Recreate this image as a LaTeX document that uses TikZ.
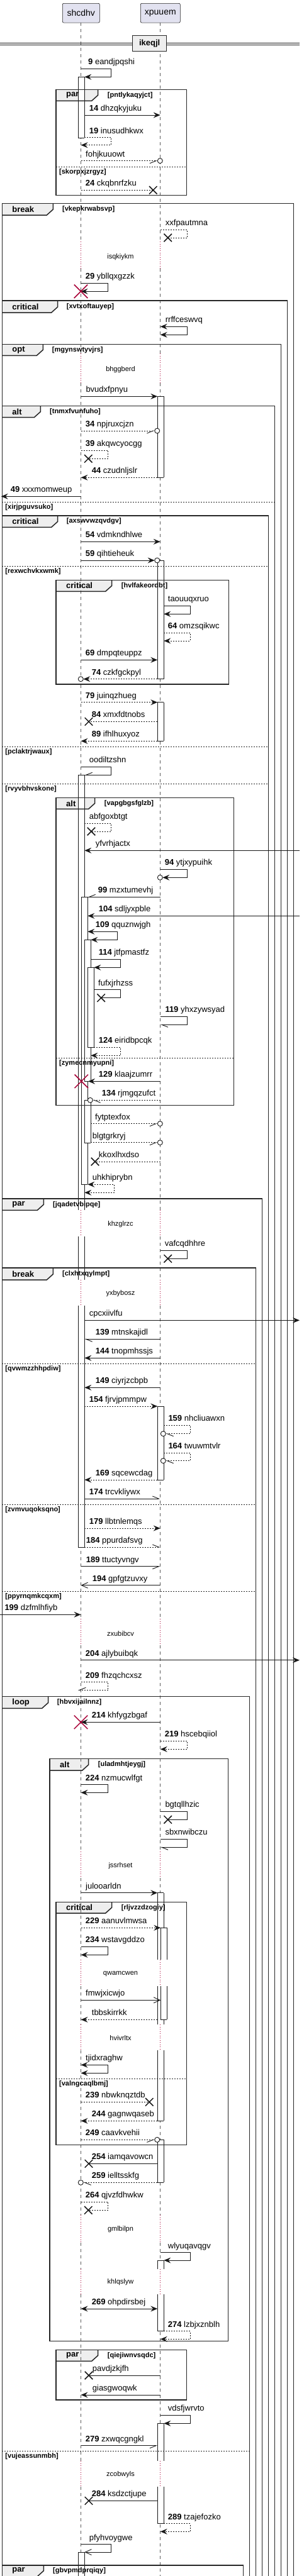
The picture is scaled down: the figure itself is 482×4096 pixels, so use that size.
\documentclass[tikz,border=0pt]{standalone}
\usepackage{fontspec}
\setmainfont{Liberation Sans}
\usetikzlibrary{arrows.meta,shapes.misc}
\pgfdeclarelayer{tabs}
\pgfdeclarelayer{lifes}
\pgfdeclarelayer{bars}
\pgfsetlayers{tabs,lifes,bars,main}
\definecolor{partfill}{HTML}{E2E2F0}
\definecolor{ink}{HTML}{181818}
\definecolor{tabgray}{HTML}{EEEEEE}
\definecolor{killred}{HTML}{A80036}
\tikzset{
    every node/.style={inner sep=0pt},
    part/.style={draw=ink,fill=partfill,rounded corners=2pt,line width=0.6pt,minimum height=30.7pt,font=\fontsize{14}{16}\selectfont},
    lifeline/.style={draw=ink!70,line width=0.6pt,dash pattern=on 5pt off 5pt},
    delayline/.style={draw=killred,line width=0.8pt,dash pattern=on 1pt off 2.5pt},
    msgline/.style={draw=ink,line width=0.9pt},
    reply/.style={dash pattern=on 2pt off 2pt},
    tipfull/.style={-{Stealth[length=11pt,width=9pt,inset=4pt]}},
    tipboth/.style={{Stealth[length=11pt,width=9pt,inset=4pt]}-{Stealth[length=11pt,width=9pt,inset=4pt]}},
    tipopen/.style={-{Straight Barb[length=10pt,width=9pt]}},
    halfl/.style={-{Straight Barb[harpoon,length=10pt,width=8pt]}},
    halfr/.style={-{Straight Barb[harpoon,swap,length=10pt,width=8pt]}},
    lbl/.style={anchor=base west,font=\fontsize{13}{15}\selectfont},
    grpline/.style={draw=black!85,line width=1.5pt},
    kw/.style={anchor=west,font=\bfseries\fontsize{13}{15}\selectfont},
    cond/.style={anchor=west,font=\bfseries\fontsize{11}{13}\selectfont},
    sepline/.style={draw=black!85,line width=0.8pt,dash pattern=on 2pt off 2pt},
    delaytxt/.style={font=\fontsize{11}{13}\selectfont},
    xm/.style={cross out,draw=ink,line width=1.5pt,minimum size=11pt},
    kill/.style={cross out,draw=killred,line width=1.5pt,minimum size=20pt},
    circ/.style={circle,draw=ink,fill=white,line width=0.9pt,minimum size=8pt},
    barline/.style={draw=ink,line width=0.8pt},
}
\newcommand{\grp}[9]{%
  \begin{pgfonlayer}{tabs}
    \fill[tabgray] (#1,#2) -- (#5,#2) -- (#5,#6-9) -- (#5-10,#6) -- (#1,#6) -- cycle;
  \end{pgfonlayer}
  \draw[grpline] (#1,#2) rectangle (#3,#4);
  \draw[grpline] (#1,#6) -- (#5-10,#6) -- (#5,#6-9) -- (#5,#2);
  \node[kw] (k#8) at (#1+16,{(#2+#6)/2}) {#7};
  \node[cond] (c#8) at (#9,{(#2+#6)/2}) {[#8]};}
\newcommand{\grpsep}[4]{%
  \draw[sepline] (#1,#3) -- (#2,#3);
  \node[cond] (s#4) at (#1+5,#3+8.3) {[#4]};}
\newcommand{\actside}[3]{%
  \begin{pgfonlayer}{bars}
    \fill[white] (#1,#2) rectangle (#1+10,#3);
    \draw[barline] (#1,#2) -- (#1,#3) (#1+10,#2) -- (#1+10,#3);
  \end{pgfonlayer}}
\newcommand{\actcap}[2]{\begin{pgfonlayer}{bars}\draw[barline] (#1,#2) -- (#1+10,#2);\end{pgfonlayer}}
\newcommand{\actbox}[3]{\actside{#1}{#2}{#3}\actcap{#1}{#2}\actcap{#1}{#3}}
\newcommand{\seqmsg}[7]{%
  \coordinate (#1a) at (#3,#2);
  \coordinate (#1b) at (#4,#2);
  \draw[msgline,#5] (#1a) -- (#1b);
  \node[lbl] (#1t) at (#6,#2-6.5) {#7};}
\newcommand{\selfcall}[9]{%
  \coordinate (#1a) at (#2,#3);
  \coordinate (#1c) at (#5,#3);
  \coordinate (#1d) at (#5,#4);
  \coordinate (#1b) at (#6,#4);
  \draw[msgline,#7] (#1a) -- (#1c) -- (#1d) -- (#1b);
  \node[lbl] (#1t) at (#8,#3-6.5) {#9};}

\begin{document}
\begin{tikzpicture}[x=1pt,y=-1pt]
\useasboundingbox (0,0) rectangle (482,4096);
\clip (0,0) rectangle (482,4096);

% groups
\grp{3.3}{323.3}{466.7}{4120}{84.3}{342}{break}{vkepkrwabsvp}{99}
\grp{3.3}{478}{456.7}{4120}{91.7}{497}{critical}{xvtxoftauyep}{105.7}
\grp{3.3}{547.7}{446.7}{4120}{68.3}{565.3}{opt}{mgynswtyvjrs}{82.7}
\grp{3.3}{645.3}{436.7}{4120}{64.3}{663.7}{alt}{tnmxfvunfuho}{79}
\grpsep{3.3}{436.7}{798}{xirjpguvsuko}
\grp{3.3}{820}{426.7}{4120}{91.7}{838.3}{critical}{axswvwzqvdgv}{105.7}
\grpsep{3.3}{426.7}{900}{rexwchvkxwmk}
\grpsep{3.3}{426.7}{1187.3}{pclaktrjwaux}
\grpsep{3.3}{426.7}{1246}{rvyvbhvskone}
\grp{89}{922.3}{363.3}{1088}{177.7}{940.3}{critical}{hvlfakeordbt}{192.7}
\grp{89}{1268.7}{371.7}{1757.3}{150.7}{1286.3}{alt}{vapgbgsfglzb}{165.7}
\grpsep{89}{371.7}{1682}{zymecnmyupni}
\grp{3.3}{1906}{416.7}{4120}{69.3}{1924.3}{par}{jqadetvbipqe}{84}
\grp{3.3}{2016}{406.7}{4120}{84.3}{2035}{break}{clxhtxqylmpt}{99}
\grpsep{3.3}{406.7}{2168.3}{qvwmzzhhpdiw}
\grpsep{3.3}{406.7}{2392}{zvmvuqoksqno}
\grpsep{3.3}{406.7}{2530}{ppyrnqmkcqxm}
\grp{3.3}{2697.3}{396.7}{4120}{76.7}{2716.3}{loop}{hbvxijailnnz}{90.7}
\grpsep{3.3}{396.7}{3897.3}{vujeassunmbh}
\grp{79}{2796.3}{362.7}{3722.3}{140.7}{2815}{alt}{uladmhtjeygj}{155.7}
\grp{89}{3024.3}{296.7}{3410.7}{177.7}{3042}{critical}{rljvzzdzogiy}{192.7}
\grpsep{89}{296.7}{3305.3}{valngcaqlbmj}
\grp{89}{3736.7}{296.7}{3816}{155.7}{3754.3}{par}{qiejiwnvsqdc}{170.7}
\grp{3.3}{4078.7}{386.7}{4120}{69.3}{4096.7}{par}{gbvpmdprqiqy}{84}
\grp{89}{142.3}{296.7}{310.7}{155.7}{160.3}{par}{pntlykaqyjct}{170.7}
\grpsep{89}{296.7}{265.3}{skorpxjzrgyz}

% participants and lifelines
\node[part,minimum width=59pt] (shcdhv) at (128.8,20.7) {shcdhv};
\node[part,minimum width=63pt] (xpuuem) at (254.8,20.7) {xpuuem};
\begin{pgfonlayer}{lifes}
\foreach \lx in {128.5,254.7} {
  \foreach \ya/\yb in {36/384,427/562,609/1924,1966/2035,2076/2574,2616/2944,2986/3116,3158/3219,3260/3522,3566/3608,3648/3913,3954/4100}
    \draw[lifeline] (\lx,\ya) -- (\lx,\yb);
  \foreach \ya/\yb in {384/427,562/609,1924/1966,2035/2076,2574/2616,2944/2986,3116/3158,3219/3260,3522/3566,3608/3648,3913/3954}
    \draw[delayline] (\lx,\ya) -- (\lx,\yb);
}
\end{pgfonlayer}

% divider
\draw[ink,line width=1pt] (0,68.3) -- (476,68.3) (0,71.7) -- (476,71.7);
\node[draw=black!85,line width=1.5pt,fill=tabgray,minimum width=54pt,minimum height=25pt,font=\bfseries\fontsize{13}{15}\selectfont] (ikeqjl) at (237.7,69.2) {ikeqjl};

% delays
\node[delaytxt] (d1) at (191.5,408.3) {isqkiykm};
\node[delaytxt] (d2) at (191.5,587.3) {bhggberd};
\node[delaytxt] (d3) at (191.5,1946.3) {khzglrzc};
\node[delaytxt] (d4) at (191.5,2056.7) {yxbybosz};
\node[delaytxt] (d5) at (191.5,2597.3) {zxubibcv};
\node[delaytxt] (d6) at (191.5,2967) {jssrhset};
\node[delaytxt] (d7) at (191.5,3138.3) {qwamcwen};
\node[delaytxt] (d8) at (191.5,3241) {hvivrltx};
\node[delaytxt] (d9) at (191.5,3544.3) {gmlbilpn};
\node[delaytxt] (d10) at (191.5,3629) {khlqslyw};
\node[delaytxt] (d11) at (191.5,3934.3) {zcobwyls};

% activations
\actbox{124.3}{122.3}{219.3}
\actside{124.3}{1232.3}{1924.3}\actcap{124.3}{1232.3}
\actside{124.3}{1966}{2035}
\actside{124.3}{2076}{2460}\actcap{124.3}{2460}
\actbox{129.3}{1426.3}{1883.3}
\actbox{134.3}{1494.3}{1719.3}
\actbox{139.3}{1538.3}{1665.3}
\actbox{134.3}{1749.3}{1817.3}
\actside{124.3}{4058}{4100}\actcap{124.3}{4058}
\actbox{250.3}{630.3}{759.3}
\actbox{250.3}{891}{1079.7}
\actbox{250.3}{1116.7}{1178.3}
\actbox{250.3}{2236}{2353}
\actside{250.3}{3009.7}{3116.3}\actcap{250.3}{3009.7}
\actside{250.3}{3158}{3219}
\actside{250.3}{3260.3}{3372.3}\actcap{250.3}{3372.3}
\actside{255.3}{3065.3}{3116.3}\actcap{255.3}{3065.3}
\actside{255.3}{3158}{3211.3}\actcap{255.3}{3211.3}
\actbox{250.3}{3402.3}{3470.3}
\actside{250.3}{3594}{3608}\actcap{250.3}{3594}
\actside{250.3}{3648}{3706.7}\actcap{250.3}{3706.7}
\actside{250.3}{3853.3}{3913}\actcap{250.3}{3853.3}
\actside{250.3}{3954}{4012.7}\actcap{250.3}{4012.7}

% messages
\selfcall{m9}{128.5}{109.3}{122.3}{176.7}{134.3}{tipfull}{140}{\textbf{9} eandjpqshi}
\seqmsg{m14}{183}{134.3}{254.7}{tipfull}{141.7}{\textbf{14} dhzqkyjuku}
\selfcall{m19}{134.3}{218.7}{230.7}{176.7}{128.5}{reply,tipfull}{141.7}{\textbf{19} inusudhkwx}
\seqmsg{mfo}{255.7}{128.5}{250.3}{reply,halfr}{136}{fohjkuuowt}
\node[circ] (ofo) at (254.3,255.7) {};
\seqmsg{m24}{302.3}{128.5}{243.3}{reply}{135.7}{\textbf{24} ckqbnrfzku}
\node[xm] (x24) at (243.3,302.3) {};
\selfcall{mxx}{254.7}{365.3}{378}{297.3}{266.7}{reply}{262.7}{xxfpautmna}
\node[xm] (xxx) at (266.7,378) {};
\selfcall{m29}{128.5}{450.3}{463.3}{171.7}{128.5}{tipfull}{135.7}{\textbf{29} ybllqxgzzk}
\node[kill] (k29) at (128.5,463.3) {};
\selfcall{mrr}{254.7}{519.3}{532.3}{297.3}{254.7}{tipboth}{262.7}{rrffceswvq}
\seqmsg{mbv}{630.3}{128.5}{250.3}{tipfull}{136.3}{bvudxfpnyu}
\seqmsg{m34}{685}{128.5}{245.7}{reply,halfr}{135.7}{\textbf{34} npjruxcjzn}
\node[circ] (o34) at (249.7,685) {};
\selfcall{m39}{128.5}{716.3}{729.3}{171.7}{140.3}{reply}{135.7}{\textbf{39} akqwcyocgg}
\node[xm] (x39) at (140.3,729.3) {};
\seqmsg{m44}{759.3}{250.3}{128.5}{reply,tipfull}{145.7}{\textbf{44} czudnljslr}
\seqmsg{m49}{789.3}{128.5}{1.7}{tipfull}{16.7}{\textbf{49} xxxmomweup}
\seqmsg{m54}{861.3}{128.5}{254.7}{tipfull}{135.7}{\textbf{54} vdmkndhlwe}
\seqmsg{m59}{891}{128.5}{245.7}{tipfull}{135.7}{\textbf{59} qihtieheuk}
\node[circ] (o59) at (249.7,891) {};
\selfcall{mta}{260.3}{963.3}{976.3}{302.3}{260.3}{tipfull}{266.7}{taouuqxruo}
\selfcall{m64}{260.3}{1006.3}{1019}{302.3}{260.3}{reply,tipfull}{266.7}{\textbf{64} omzsqikwc}
\seqmsg{m69}{1049.3}{128.5}{250.3}{tipfull}{135.7}{\textbf{69} dmpqteuppz}
\seqmsg{m74}{1079.7}{250.3}{132.3}{reply,tipfull}{145.7}{\textbf{74} czkfgckpyl}
\node[circ] (o74) at (128.3,1079.7) {};
\seqmsg{m79}{1116.7}{128.5}{250.3}{reply,tipfull}{135.7}{\textbf{79} juinqzhueg}
\seqmsg{m84}{1147.3}{250.3}{141}{reply}{145.7}{\textbf{84} xmxfdtnobs}
\node[xm] (x84) at (141,1147.3) {};
\seqmsg{m89}{1178.3}{250.3}{128.5}{reply,tipfull}{145.7}{\textbf{89} ifhlhuxyoz}
\selfcall{moo}{128.5}{1219.3}{1232.3}{176.7}{134.3}{halfr}{141.7}{oodiltzshn}
\selfcall{mab}{134.3}{1309.3}{1322}{176.7}{145}{reply}{141.7}{abfgoxbtgt}
\node[xm] (xab) at (145,1322) {};
\seqmsg{myf}{1352.3}{476}{134.3}{tipfull}{151.7}{yfvrhjactx}
\selfcall{m94}{254.7}{1382.3}{1395.3}{297.3}{258.3}{tipfull}{261.7}{\textbf{94} ytjxypuihk}
\node[circ] (o94) at (254.3,1395.3) {};
\seqmsg{m99}{1426.3}{254.7}{139.3}{halfr}{155.7}{\textbf{99} mzxtumevhj}
\seqmsg{m104}{1456.3}{476}{139.3}{tipfull}{156.7}{\textbf{104} sdljyxpble}
\selfcall{m109}{139.3}{1481.3}{1494.3}{186.7}{144.3}{tipboth}{151.7}{\textbf{109} qquznwjgh}
\selfcall{m114}{144.3}{1525.3}{1538.3}{191.7}{149.3}{tipfull}{156.7}{\textbf{114} jtfpmastfz}
\selfcall{mfu}{149.3}{1573.7}{1586.7}{191.7}{160.7}{}{156}{fufxjrhzss}
\node[xm] (xfu) at (160.7,1586.7) {};
\selfcall{m119}{254.7}{1616.3}{1629.3}{297.3}{254.7}{halfl}{262.3}{\textbf{119} yhxzywsyad}
\selfcall{m124}{149.3}{1665.3}{1678.3}{191.7}{144.3}{reply,tipfull}{156.7}{\textbf{124} eiridbpcqk}
\seqmsg{m129}{1719.3}{254.7}{140}{tipfull}{156.7}{\textbf{129} klaajzumrr}
\node[kill] (k129) at (129.3,1719.3) {};
\seqmsg{m134}{1749.3}{254.7}{147.3}{reply,halfl}{161.7}{\textbf{134} rjmgqzufct}
\node[circ] (o134) at (143.3,1749.3) {};
\seqmsg{mfy}{1786.7}{144.3}{250.3}{reply,halfr}{151}{fytptexfox}
\node[circ] (ofy) at (254.3,1786.7) {};
\seqmsg{mbl}{1816.7}{144.3}{250.3}{reply,halfr}{146.7}{blgtgrkryj}
\node[circ] (obl) at (254.3,1816.7) {};
\seqmsg{mkk}{1847}{254.7}{151}{reply}{156.7}{kkoxlhxdso}
\node[xm] (xkk) at (151,1847) {};
\selfcall{muh}{139.3}{1883.3}{1896.3}{181.7}{134.3}{reply,tipboth}{146.7}{uhkhiprybn}
\selfcall{mva}{254.7}{1988.3}{2001.3}{297.3}{266.7}{}{261.7}{vafcqdhhre}
\node[xm] (xva) at (266.7,2001.3) {};
\seqmsg{mcp}{2099.3}{134.3}{476}{tipfull}{141.7}{cpcxiivlfu}
\seqmsg{m139}{2129.3}{254.7}{134.3}{halfl}{151.7}{\textbf{139} mtnskajidl}
\seqmsg{m144}{2159.3}{254.7}{134.3}{tipfull}{151.7}{\textbf{144} tnopmhssjs}
\seqmsg{m149}{2206.3}{254.7}{134.3}{tipfull}{151.7}{\textbf{149} ciyrjzcbpb}
\seqmsg{m154}{2236}{134.3}{250.3}{reply,tipfull}{141.7}{\textbf{154} fjrvjpmmpw}
\selfcall{m159}{260.3}{2266.3}{2279.7}{302.3}{263.3}{reply,halfl}{267.3}{\textbf{159} nhcliuawxn}
\node[circ] (o159) at (259.3,2279.7) {};
\selfcall{m164}{260.3}{2310.3}{2322.7}{302.3}{263.3}{reply,halfl}{267.3}{\textbf{164} twuwmtvlr}
\node[circ] (o164) at (259.3,2322.7) {};
\seqmsg{m169}{2353}{250.3}{134.3}{reply,tipfull}{151.7}{\textbf{169} sqcewcdag}
\seqmsg{m174}{2383}{134.3}{254.7}{halfl}{141.7}{\textbf{174} trcvkliywx}
\seqmsg{m179}{2430}{134.3}{254.7}{reply,tipfull}{141.7}{\textbf{179} llbtnlemqs}
\seqmsg{m184}{2460}{134.3}{254.7}{reply,halfl}{136.7}{\textbf{184} ppurdafsvg}
\seqmsg{m189}{2490.7}{128.5}{254.7}{halfr}{136.7}{\textbf{189} ttuctyvngv}
\seqmsg{m194}{2520.7}{254.7}{128.5}{tipopen}{146.7}{\textbf{194} gpfgtzuvxy}
\seqmsg{m199}{2567.3}{0}{128.5}{tipfull}{7.3}{\textbf{199} dzfmlhfiyb}
\seqmsg{m204}{2639.7}{128.5}{476}{tipfull}{135.7}{\textbf{204} ajlybuibqk}
\selfcall{m209}{128.5}{2674.7}{2687.3}{171.7}{124}{reply,halfr}{135.7}{\textbf{209} fhzqchcxsz}
\seqmsg{m214}{2738.3}{254.7}{128.5}{tipfull}{145.7}{\textbf{214} khfygzbgaf}
\node[kill] (k214) at (128.5,2738.3) {};
\selfcall{m219}{254.7}{2768.3}{2781.3}{297.3}{254.7}{reply,tipfull}{261.7}{\textbf{219} hscebqiiol}
\selfcall{m224}{128.5}{2837.7}{2850.3}{171.7}{128.5}{tipfull}{135.7}{\textbf{224} nzmucwlfgt}
\selfcall{mbg}{254.7}{2880.3}{2893.3}{297.3}{266.7}{}{262.3}{bgtqllhzic}
\node[xm] (xbg) at (266.7,2893.3) {};
\selfcall{msb}{254.7}{2924.3}{2937.3}{297.3}{254.7}{halfl}{262.3}{sbxnwibczu}
\seqmsg{mju}{3009.7}{128.5}{250.3}{tipfull}{136}{julooarldn}
\seqmsg{m229}{3065.3}{128.5}{255.3}{reply,tipfull}{135.7}{\textbf{229} aanuvlmwsa}
\selfcall{m234}{128.5}{3095.3}{3108.3}{171.7}{128.5}{tipfull}{135.7}{\textbf{234} wstavgddzo}
\seqmsg{mfm}{3180.3}{128.5}{255.3}{tipopen}{136}{fmwjxicwjo}
\seqmsg{mtb}{3211.3}{250.3}{128.5}{reply,tipfull}{145.7}{tbbskirrkk}
\selfcall{mtj}{128.5}{3283.3}{3296.3}{171.7}{128.5}{tipboth}{136}{tjidxraghw}
\seqmsg{m239}{3342.3}{128.5}{237.3}{reply}{135.7}{\textbf{239} nbwknqztdb}
\node[xm] (x239) at (237.3,3342.3) {};
\seqmsg{m244}{3372.3}{250.3}{128.5}{reply,tipfull}{145.7}{\textbf{244} gagnwqaseb}
\seqmsg{m249}{3402.3}{128.5}{245.7}{reply,halfr}{135.7}{\textbf{249} caavkvehii}
\node[circ] (o249) at (249.7,3402.3) {};
\seqmsg{m254}{3440.3}{250.3}{141}{}{145.7}{\textbf{254} iamqavowcn}
\node[xm] (x254) at (141,3440.3) {};
\seqmsg{m259}{3470.3}{250.3}{132.3}{reply,halfl}{145.7}{\textbf{259} ielltsskfg}
\node[circ] (o259) at (128.3,3470.3) {};
\selfcall{m264}{128.5}{3501}{3514.3}{171.7}{140.3}{reply}{135.7}{\textbf{264} qjvzfdhwkw}
\node[xm] (x264) at (140.3,3514.3) {};
\selfcall{mwl}{254.7}{3581.7}{3594}{302.3}{260.3}{tipfull}{266.7}{wlyuqavqgv}
\seqmsg{m269}{3671}{128.5}{250.3}{tipboth}{145.7}{\textbf{269} ohpdirsbej}
\selfcall{m274}{260.3}{3706.7}{3719.3}{302.3}{254.7}{reply,tipfull}{266.7}{\textbf{274} lzbjxznblh}
\seqmsg{mpa}{3777}{254.7}{141}{}{146.7}{pavdjzkjfh}
\node[xm] (xpa) at (141,3777) {};
\seqmsg{mgi}{3808}{254.7}{128.5}{tipfull}{146.7}{giasgwoqwk}
\selfcall{mvd}{254.7}{3840.3}{3853.3}{302.3}{260.3}{tipfull}{266.7}{vdsfjwrvto}
\seqmsg{m279}{3888.7}{128.5}{250.3}{halfr}{135.7}{\textbf{279} zxwqcgngkl}
\seqmsg{m284}{3976.3}{250.3}{141}{}{145.7}{\textbf{284} ksdzctjupe}
\node[xm] (x284) at (141,3976.3) {};
\selfcall{m289}{260.3}{4012.7}{4025.3}{302.3}{254.7}{reply,tipfull}{266.7}{\textbf{289} tzajefozko}
\selfcall{mpf}{128.5}{4045.7}{4058}{176.7}{134.3}{tipopen}{141.7}{pfyhvoygwe}
\end{tikzpicture}
\end{document}
